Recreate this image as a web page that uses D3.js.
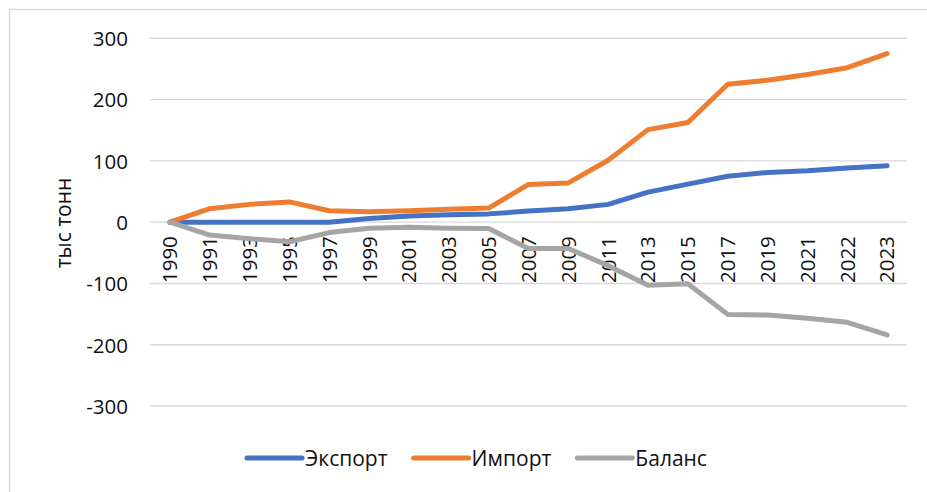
<!DOCTYPE html>
<html>
<head>
<meta charset="utf-8">
<script src="https://cdn.jsdelivr.net/npm/d3@7"></script>
<style>
  html, body { margin: 0; padding: 0; background: #fff; }
  svg { display: block; }
  text { font-family: "Open Sans", "Liberation Sans", sans-serif; fill: #111; }
</style>
</head>
<body>
<svg id="chart" width="927" height="492"></svg>
<script>
// Years on the category axis
const years = ["1990","1991","1993","1995","1997","1999","2001","2003","2005","2007","2009","2011","2013","2015","2017","2019","2021","2022","2023"];

// Thousand tonnes per year
const exportVals = [0, 0, 0, 0, 0, 6, 10, 12, 13.5, 18, 22, 29, 49, 62, 75, 81, 84, 88.5, 92];
const importVals = [0, 22, 29, 33, 18.5, 17, 18.5, 21, 23, 61.5, 64, 101, 151, 162.5, 225, 231.5, 241, 252, 275];
const balanceVals = [0, -21, -27, -32, -17, -10, -8.5, -10, -10.5, -43, -43, -71, -103, -100.5, -150.5, -151.5, -157, -163.5, -184];

const yTicks = [-300, -200, -100, 0, 100, 200, 300];
const seriesNames = ["Экспорт", "Импорт", "Баланс"];
const seriesColors = ["#4472C4", "#ED7D31", "#A5A5A5"];
const axisTitle = "тыс тонн";

const series = [exportVals, importVals, balanceVals].map((vals, i) => ({
  name: seriesNames[i],
  color: seriesColors[i],
  values: vals.map((v, j) => ({ year: years[j], value: v }))
}));

const svg = d3.select("#chart");

// Chart frame
svg.append("rect")
  .attr("x", 9.5).attr("y", 9.5)
  .attr("width", 940).attr("height", 495)
  .attr("fill", "none")
  .attr("stroke", "#d9d9d9")
  .attr("stroke-width", 1.5);

const plot = { left: 150, right: 907, top: 38.3, bottom: 406 };

const x = d3.scaleBand().domain(years).range([plot.left, plot.right]).padding(0);
const y = d3.scaleLinear().domain([-300, 300]).range([plot.bottom, plot.top]);
const cx = d => x(d) + x.bandwidth() / 2;

// Horizontal gridlines
svg.append("g")
  .selectAll("line")
  .data(yTicks)
  .join("line")
  .attr("x1", plot.left).attr("x2", plot.right)
  .attr("y1", d => y(d)).attr("y2", d => y(d))
  .attr("stroke", "#d9d9d9")
  .attr("stroke-width", 1.4);

// Value axis labels (plain hyphen for negatives)
const yAxis = d3.axisLeft(y).tickValues(yTicks).tickSize(0).tickPadding(0)
  .tickFormat(d => String(d));
const yg = svg.append("g").attr("transform", `translate(${plot.left - 22},0)`).call(yAxis);
yg.select(".domain").remove();
yg.selectAll("text")
  .attr("font-family", "Open Sans, Liberation Sans, sans-serif")
  .attr("font-size", 20.5)
  .attr("fill", "#111")
  .attr("dy", "0.36em");

// Category labels, rotated, hanging just below the zero line
const xAxis = d3.axisBottom(x).tickSize(0).tickPadding(0);
const xg = svg.append("g").attr("transform", `translate(0,${y(0)})`).call(xAxis);
xg.select(".domain").remove();
xg.selectAll("text")
  .attr("font-family", "Open Sans, Liberation Sans, sans-serif")
  .attr("font-size", 20.5)
  .attr("fill", "#111")
  .attr("text-anchor", "end")
  .attr("transform", "rotate(-90)")
  .attr("x", -14)
  .attr("y", 0)
  .attr("dy", "0.36em");

// Axis title
svg.append("text")
  .attr("transform", `translate(63.5,223) rotate(-90)`)
  .attr("text-anchor", "middle")
  .attr("dy", "0.36em")
  .attr("font-size", 21)
  .text(axisTitle);

// Series lines
const line = d3.line().x(d => cx(d.year)).y(d => y(d.value));
svg.append("g")
  .selectAll("path")
  .data(series)
  .join("path")
  .attr("d", d => line(d.values))
  .attr("fill", "none")
  .attr("stroke", d => d.color)
  .attr("stroke-width", 5)
  .attr("stroke-linejoin", "round")
  .attr("stroke-linecap", "round");

// Legend
const legendY = 458;
const lg = svg.append("g");
const items = lg.selectAll("g").data(series).join("g");
items.append("line")
  .attr("x1", 0).attr("x2", 55)
  .attr("y1", 0).attr("y2", 0)
  .attr("stroke", d => d.color)
  .attr("stroke-width", 5)
  .attr("stroke-linecap", "round");
items.append("text")
  .attr("x", 58)
  .attr("dy", "0.36em")
  .attr("font-size", 21)
  .text(d => d.name);

let offset = 0;
const gap = 26;
items.each(function () {
  const w = 58 + d3.select(this).select("text").node().getComputedTextLength();
  d3.select(this).attr("data-o", offset);
  offset += w + gap;
});
const total = offset - gap;
const legendCenter = 477;
items.attr("transform", function () {
  const o = +d3.select(this).attr("data-o");
  return `translate(${legendCenter - total / 2 + o},${legendY})`;
});
</script>
</body>
</html>
